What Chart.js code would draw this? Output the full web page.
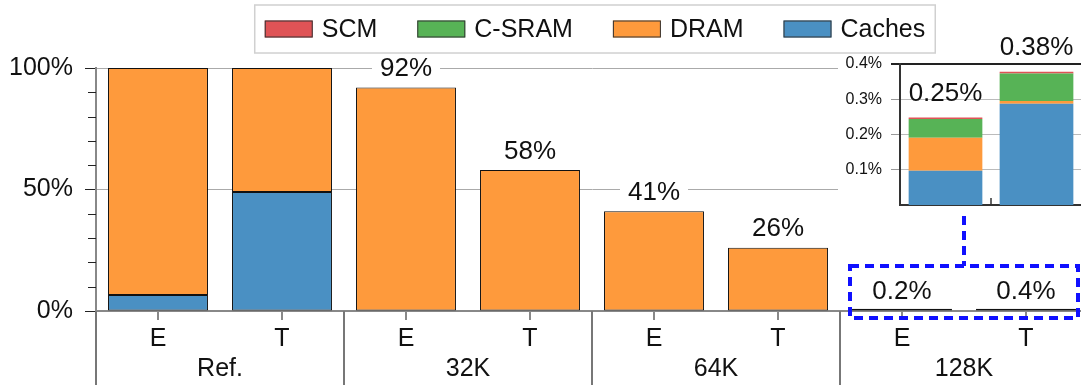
<!DOCTYPE html>
<html><head><meta charset="utf-8">
<script src="https://cdn.jsdelivr.net/npm/chart.js@4/dist/chart.umd.min.js"></script>
<style>
html,body{margin:0;padding:0;background:#fff;overflow:hidden;}
#wrap{position:relative;width:1081px;height:385px;overflow:hidden;background:#fff;}
#main{position:absolute;left:0;top:0;}
#inset{position:absolute;left:838px;top:28px;}
</style></head><body>
<div id="wrap"><canvas id="main" width="1088" height="385"></canvas><canvas id="inset" width="244" height="188"></canvas></div>
<script>
// ---- data ----
const categories = ['E', 'T', 'E', 'T', 'E', 'T', 'E', 'T'];
const groups = ['Ref.', '32K', '64K', '128K'];
const seriesNames = ['Caches', 'DRAM', 'C-SRAM', 'SCM'];
const caches = [6.6, 49, null, null, null, null, 0.097, 0.287];
const dram   = [93.4, 51, 92, 58, 41, 26, 0.094, 0.008];
const csram  = [null, null, null, null, null, null, 0.053, 0.078];
const scm    = [null, null, null, null, null, null, 0.004, 0.005];
const barLabels = ['', '', '92%', '58%', '41%', '26%', '0.2%', '0.4%'];
const insetIndex = [6, 7];
const insetLabels = ['0.25%', '0.38%'];
const mainYLabeled = [0, 50, 100];

const colors = ['#4a90c3', '#fe9a3c', '#57b356', '#df5356'];
const seriesData = [caches, dram, csram, scm];
const FONT = "'Liberation Sans', Arial, Helvetica, sans-serif";
Chart.defaults.font.family = FONT;
Chart.defaults.color = '#111';

const totalsOf = (idx) => seriesData.reduce((s, d) => s + (d[idx] || 0), 0);

// ---- main chart plugins ----
const mainDecor = {
  id: 'mainDecor',
  afterDatasetsDraw(chart) {
    const ctx = chart.ctx, xs = chart.scales.x, ys = chart.scales.y;
    ctx.save();
    ctx.font = '26px ' + FONT;
    ctx.textAlign = 'center';
    ctx.textBaseline = 'middle';
    barLabels.forEach((lab, i) => {
      if (!lab) return;
      const x = xs.getPixelForValue(i);
      const yTop = ys.getPixelForValue(totalsOf(i));
      const cy = yTop - 19.5;
      const w = ctx.measureText(lab).width + 16;
      ctx.fillStyle = '#fff';
      ctx.fillRect(x - w / 2, cy - 13, w, 26);
      ctx.fillStyle = '#111';
      ctx.fillText(lab, x, cy + 1);
    });
    ctx.restore();
  },
  afterDraw(chart) {
    const ctx = chart.ctx, xs = chart.scales.x, ys = chart.scales.y;
    const area = chart.chartArea;
    ctx.save();
    // minor y ticks
    ctx.strokeStyle = '#222';
    ctx.lineWidth = 1;
    for (let v = 10; v < 100; v += 10) {
      if (mainYLabeled.includes(v)) continue;
      const py = Math.round(ys.getPixelForValue(v)) + 0.5;
      ctx.beginPath();
      ctx.moveTo(area.left - 8, py);
      ctx.lineTo(area.left, py);
      ctx.stroke();
    }
    // group separators and labels
    const step = xs.getPixelForValue(1) - xs.getPixelForValue(0);
    ctx.strokeStyle = '#777';
    ctx.lineWidth = 2;
    groups.forEach((g, gi) => {
      const left = xs.getPixelForValue(gi * 2) - step / 2;
      ctx.beginPath();
      ctx.moveTo(left, area.bottom);
      ctx.lineTo(left, chart.height);
      ctx.stroke();
    });
    ctx.fillStyle = '#111';
    ctx.font = '25px ' + FONT;
    ctx.textAlign = 'center';
    ctx.textBaseline = 'middle';
    groups.forEach((g, gi) => {
      const cx = (xs.getPixelForValue(gi * 2) + xs.getPixelForValue(gi * 2 + 1)) / 2;
      ctx.fillText(g, cx, area.bottom + 58);
    });
    // dashed zoom box around last group
    const x0 = xs.getPixelForValue(6) - step / 2 + 10;
    const x1 = xs.getPixelForValue(7) + step / 2 - 10;
    const y0 = ys.getPixelForValue(0);
    ctx.strokeStyle = '#1010ff';
    ctx.lineWidth = 4;
    ctx.setLineDash([9, 6]);
    ctx.strokeRect(x0, y0 - 45, x1 - x0, 52);
    const cx = (x0 + x1) / 2;
    ctx.beginPath();
    ctx.moveTo(cx, 216);
    ctx.lineTo(cx, y0 - 45);
    ctx.stroke();
    ctx.setLineDash([]);
    // legend
    ctx.font = '25px ' + FONT;
    const items = chart.data.datasets.slice().reverse();
    const sw = 48, sh = 17, gapT = 9, gapI = 40, pad = 10;
    let total = pad * 2;
    items.forEach((d, k) => {
      total += sw + gapT + ctx.measureText(d.label).width + (k < items.length - 1 ? gapI : 0);
    });
    const lcx = 595, lcy = 29;
    const bx = lcx - total / 2;
    ctx.fillStyle = '#fff';
    ctx.fillRect(bx, 5, total, 48);
    ctx.strokeStyle = '#d0d0d0';
    ctx.lineWidth = 1.5;
    ctx.strokeRect(bx, 5, total, 48);
    let xx = bx + pad;
    ctx.textAlign = 'left';
    items.forEach((d) => {
      ctx.fillStyle = d.backgroundColor;
      ctx.fillRect(xx, lcy - sh / 2, sw, sh);
      ctx.strokeStyle = '#333';
      ctx.lineWidth = 1;
      ctx.strokeRect(xx + 0.5, lcy - sh / 2 + 0.5, sw - 1, sh - 1);
      xx += sw + gapT;
      ctx.fillStyle = '#111';
      ctx.fillText(d.label, xx, lcy + 1);
      xx += ctx.measureText(d.label).width + gapI;
    });
    ctx.restore();
  }
};

new Chart(document.getElementById('main'), {
  type: 'bar',
  data: {
    labels: categories,
    datasets: seriesData.map((d, i) => ({
      label: seriesNames[i],
      data: d,
      backgroundColor: colors[i],
      borderColor: '#111',
      borderWidth: 1,
      borderSkipped: false,
      barPercentage: 0.806,
      categoryPercentage: 1,
      minBarLength: i === 0 ? 2 : 0
    }))
  },
  options: {
    responsive: false,
    animation: false,
    devicePixelRatio: 1,
    layout: { padding: { top: 68, left: 0, right: 0, bottom: 0 } },
    plugins: { legend: { display: false }, tooltip: { enabled: false } },
    scales: {
      x: {
        stacked: true,
        grid: { offset: false, drawOnChartArea: false, tickLength: 9, color: '#888', lineWidth: 2 },
        border: { color: '#888', width: 2 },
        ticks: { font: { size: 25 }, padding: 4, color: '#111', maxRotation: 0, autoSkip: false },
        afterFit: (s) => { s.height = 74; }
      },
      y: {
        stacked: true,
        min: 0,
        max: 100,
        ticks: {
          stepSize: 10,
          autoSkip: false,
          font: { size: 25 },
          padding: 12,
          color: '#111',
          callback: (v) => (mainYLabeled.includes(v) ? v + '%' : '')
        },
        grid: {
          color: (c) => (c.tick && (c.tick.value === 50 || c.tick.value === 100) ? '#aaa' : 'rgba(0,0,0,0)'),
          tickColor: (c) => (c.tick && mainYLabeled.includes(c.tick.value) ? '#222' : 'rgba(0,0,0,0)'),
          tickLength: 11,
          lineWidth: 1
        },
        border: { color: '#888', width: 2 },
        afterFit: (s) => { s.width = 96; }
      }
    }
  },
  plugins: [mainDecor]
});

// ---- inset chart ----
const insetDecor = {
  id: 'insetDecor',
  beforeDraw(chart) {
    const ctx = chart.ctx;
    ctx.save();
    ctx.fillStyle = '#fff';
    ctx.fillRect(0, 28, chart.width, chart.height - 28);
    ctx.restore();
  },
  afterDraw(chart) {
    const ctx = chart.ctx, xs = chart.scales.x, ys = chart.scales.y;
    ctx.save();
    const mid = (xs.getPixelForValue(0) + xs.getPixelForValue(1)) / 2;
    ctx.strokeStyle = '#333';
    ctx.lineWidth = 1.5;
    ctx.beginPath();
    ctx.moveTo(mid, chart.chartArea.bottom);
    ctx.lineTo(mid, chart.chartArea.bottom - 7);
    ctx.stroke();
    ctx.font = '26px ' + FONT;
    ctx.textAlign = 'center';
    ctx.textBaseline = 'middle';
    ctx.fillStyle = '#111';
    insetIndex.forEach((idx, k) => {
      const x = xs.getPixelForValue(k);
      const yTop = ys.getPixelForValue(totalsOf(idx));
      ctx.fillText(insetLabels[k], x, yTop - 24);
    });
    ctx.restore();
  }
};

new Chart(document.getElementById('inset'), {
  type: 'bar',
  data: {
    labels: insetIndex.map((i) => categories[i]),
    datasets: seriesData.map((d, k) => ({
      label: seriesNames[k],
      data: insetIndex.map((i) => d[i]),
      backgroundColor: colors[k],
      borderWidth: 0,
      barPercentage: 0.81,
      categoryPercentage: 1
    }))
  },
  options: {
    responsive: false,
    animation: false,
    devicePixelRatio: 1,
    layout: { padding: { top: 36, bottom: 11, left: 0, right: 0 } },
    plugins: { legend: { display: false }, tooltip: { enabled: false } },
    scales: {
      x: {
        stacked: true,
        ticks: { display: false },
        grid: { drawOnChartArea: false, drawTicks: false },
        border: { color: '#333', width: 2 },
        afterFit: (s) => { s.height = 0; s.paddingLeft = 0; s.paddingRight = 0; }
      },
      y: {
        stacked: true,
        min: 0,
        max: 0.4,
        ticks: {
          stepSize: 0.1,
          autoSkip: false,
          font: { size: 16 },
          padding: 9,
          color: '#111',
          callback: (v) => (v > 0.001 ? v.toFixed(1) + '%' : null)
        },
        grid: {
          color: (c) => (c.tick && c.tick.value > 0.39 ? '#222' : '#bbb'),
          tickColor: (c) => (c.tick && c.tick.value > 0.39 ? '#222' : '#999'),
          tickLength: 9,
          lineWidth: (c) => (c.tick && c.tick.value > 0.39 ? 2 : 1)
        },
        border: { color: '#333', width: 2 },
        afterFit: (s) => { s.width = 62; s.paddingTop = 0; s.paddingBottom = 0; }
      }
    }
  },
  plugins: [insetDecor]
});
</script>
</body></html>
